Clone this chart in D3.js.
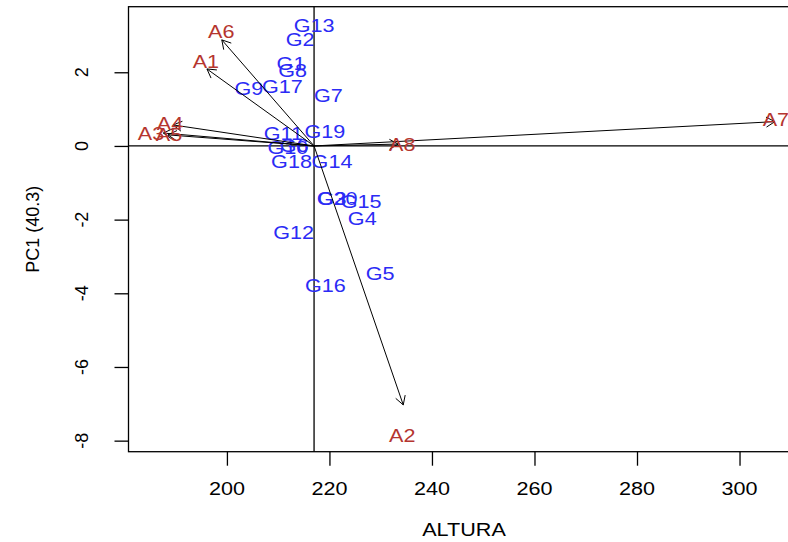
<!DOCTYPE html>
<html>
<head>
<meta charset="utf-8">
<script src="https://cdn.jsdelivr.net/npm/d3@7"></script>
<style>
body { margin: 0; background: #fff; }
text { font-family: "Liberation Sans", Arial, sans-serif; }
</style>
</head>
<body>
<div id="chart"></div>
<script>
// genotype scores
var genNames = ["G1","G2","G3","G4","G5","G6","G7","G8","G9","G10","G11","G12","G13","G14","G15","G16","G17","G18","G19","G20"];
var genX = [212.5, 214.3, 220.5, 226.4, 229.9, 213.1, 219.8, 212.8, 204.3, 211.9, 211.0, 213.0, 217.0, 220.5, 226.2, 219.2, 210.8, 212.6, 219.1, 221.5];
var genY = [2.25, 2.90, -1.44, -1.98, -3.45, 0.0, 1.38, 2.04, 1.57, -0.03, 0.35, -2.36, 3.28, -0.43, -1.52, -3.80, 1.60, -0.41, 0.38, -1.44];

// environment vectors
var envNames = ["A1","A2","A3","A4","A5","A6","A7","A8"];
var envTipX = [196.1, 234.4, 187.6, 189.5, 188.5, 199.0, 306.9, 233.4];
var envTipY = [2.09, -7.03, 0.35, 0.57, 0.30, 2.88, 0.66, 0.05];
var envLabX = [195.9, 234.2, 185.2, 188.9, 188.7, 198.9, 307.1, 234.2];
var envLabY = [2.28, -7.87, 0.35, 0.62, 0.30, 3.12, 0.71, 0.03];

var origin = [217, 0];
var xTicks = [200, 220, 240, 260, 280, 300];
var yTicks = [-8, -6, -4, -2, 0, 2];

var width = 788, height = 542;
var margin = { left: 128.5, top: 6.7, right: -11.5, bottom: 90.3 };
var fs = 18, sx = 1.2;

var svg = d3.select("#chart").append("svg")
  .attr("width", width)
  .attr("height", height);

var x = d3.scaleLinear()
  .domain([180.8, 311.7])
  .range([margin.left, width - margin.right]);

var y = d3.scaleLinear()
  .domain([-8.30, 3.78])
  .range([height - margin.bottom, margin.top]);

function label(g, px, py, txt, col) {
  g.append("text")
    .attr("transform", "translate(" + px + "," + py + ") scale(" + sx + ",1)")
    .attr("text-anchor", "middle")
    .attr("dy", "0.36em")
    .attr("font-size", fs)
    .attr("fill", col)
    .text(txt);
}

// reference lines through the origin
svg.append("line")
  .attr("x1", x(origin[0])).attr("x2", x(origin[0]))
  .attr("y1", margin.top).attr("y2", height - margin.bottom)
  .attr("stroke", "#000").attr("stroke-width", 1.3);
svg.append("line")
  .attr("x1", margin.left).attr("x2", width)
  .attr("y1", y(origin[1])).attr("y2", y(origin[1]))
  .attr("stroke", "#000").attr("stroke-width", 1.3);

// frame
svg.append("rect")
  .attr("x", margin.left).attr("y", margin.top)
  .attr("width", width - margin.right - margin.left)
  .attr("height", height - margin.bottom - margin.top)
  .attr("fill", "none").attr("stroke", "#000").attr("stroke-width", 1.3);

// x axis
var xAxis = svg.append("g")
  .attr("transform", "translate(0," + (height - margin.bottom) + ")")
  .call(d3.axisBottom(x).tickValues(xTicks).tickSize(14).tickFormat(""));
xAxis.select(".domain").remove();
xAxis.selectAll(".tick line").attr("stroke-width", 1.3);
xTicks.forEach(function(t) { label(svg, x(t), 489, String(t), "#000"); });

// y axis
var yAxis = svg.append("g")
  .attr("transform", "translate(" + margin.left + ",0)")
  .call(d3.axisLeft(y).tickValues(yTicks).tickSize(14).tickFormat(""));
yAxis.select(".domain").remove();
yAxis.selectAll(".tick line").attr("stroke-width", 1.3);
yTicks.forEach(function(t) {
  svg.append("text")
    .attr("transform", "translate(88," + y(t) + ") rotate(-90)")
    .attr("text-anchor", "middle")
    .attr("font-size", fs)
    .text(String(t));
});

// axis titles
label(svg, (margin.left + width - margin.right) / 2, 530, "ALTURA", "#000");
svg.append("text")
  .attr("transform", "translate(39," + ((margin.top + height - margin.bottom) / 2) + ") rotate(-90)")
  .attr("text-anchor", "middle")
  .attr("font-size", fs)
  .text("PC1 (40.3)");

// genotype labels
var gG = svg.append("g");
genNames.forEach(function(n, i) {
  label(gG, x(genX[i]), y(genY[i]), n, "#2b2bf5");
});

// environment arrows
var gA = svg.append("g").attr("stroke", "#000").attr("stroke-width", 1).attr("fill", "none");
var headLen = 10, headAng = Math.PI / 6;
envNames.forEach(function(n, i) {
  var x0 = x(origin[0]), y0 = y(origin[1]);
  var x1 = x(envTipX[i]), y1 = y(envTipY[i]);
  var a = Math.atan2(y1 - y0, x1 - x0);
  gA.append("line")
    .attr("x1", x0).attr("y1", y0).attr("x2", x1).attr("y2", y1);
  gA.append("path")
    .attr("d", "M" + (x1 - headLen * Math.cos(a - headAng)) + "," + (y1 - headLen * Math.sin(a - headAng)) +
      "L" + x1 + "," + y1 +
      "L" + (x1 - headLen * Math.cos(a + headAng)) + "," + (y1 - headLen * Math.sin(a + headAng)));
});

// environment labels
var gE = svg.append("g");
envNames.forEach(function(n, i) {
  label(gE, x(envLabX[i]), y(envLabY[i]), n, "#b5352f");
});
</script>
</body>
</html>
